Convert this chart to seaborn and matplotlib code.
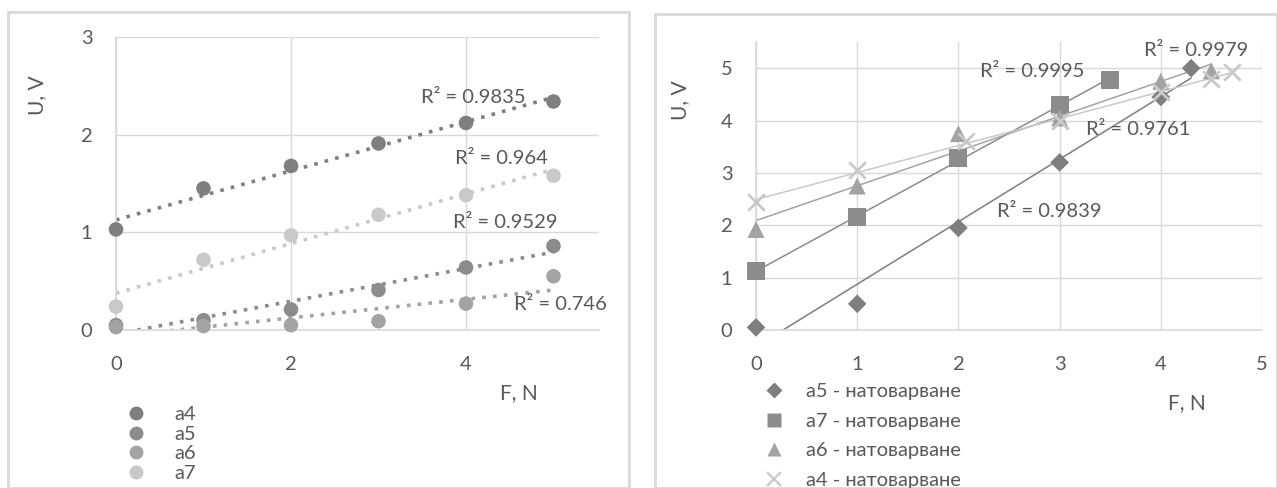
import numpy as np
import pandas as pd
import matplotlib
matplotlib.use("Agg")
import matplotlib.pyplot as plt
import seaborn as sns
from matplotlib.patches import Rectangle
from matplotlib.lines import Line2D

# left chart: U(F) for sensors a4..a7
left_force = [0, 1, 2, 3, 4, 5]
left_names = ["a4", "a5", "a6", "a7"]
left_a4 = [1.03, 1.45, 1.68, 1.91, 2.12, 2.34]
left_a5 = [0.05, 0.10, 0.21, 0.41, 0.64, 0.86]
left_a6 = [0.03, 0.04, 0.05, 0.09, 0.27, 0.55]
left_a7 = [0.24, 0.72, 0.97, 1.18, 1.38, 1.58]
left_r2 = ["0.9835", "0.9529", "0.746", "0.964"]
left_r2_pos = [(4.08, 2.38), (4.45, 1.10), (5.08, 0.26), (4.40, 1.76)]

# right chart: loading ("натоварване") curves
right_names = ["a5 - натоварване", "a7 - натоварване", "a6 - натоварване", "a4 - натоварване"]
right_a5_x = [0, 1, 2, 3, 4, 4.3]
right_a5_y = [0.05, 0.50, 1.95, 3.20, 4.45, 5.00]
right_a7_x = [0, 1, 2, 3, 3.5]
right_a7_y = [1.12, 2.15, 3.28, 4.30, 4.78]
right_a6_x = [0, 1, 2, 3, 4, 4.5]
right_a6_y = [1.92, 2.75, 3.75, 4.05, 4.75, 4.95]
right_a4_x = [0, 1, 2.08, 3, 4, 4.5, 4.7]
right_a4_y = [2.45, 3.05, 3.60, 4.00, 4.55, 4.80, 4.92]
right_r2 = ["0.9839", "0.9995", "0.9979", "0.9761"]
right_r2_pos = [(2.90, 2.27), (2.73, 4.94), (4.35, 5.34), (3.78, 3.82)]

grays = ["#7f7f7f", "#8c8c8c", "#a3a3a3", "#c9c9c9"]
text_col = "#595959"
grid_col = "#d9d9d9"

sns.set_style("white")
plt.rcParams["font.family"] = ["Lato", "DejaVu Sans"]

fig = plt.figure(figsize=(12.77, 4.88), dpi=100)

# panel frames
for x0, y0, w, h in [(8, 0, 621, 476), (655, 0, 622, 474)]:
    fig.patches.append(Rectangle((x0 / 1277, y0 / 488), w / 1277, h / 488,
                                 transform=fig.transFigure, fill=False,
                                 edgecolor="#d9d9d9", linewidth=2))

ax1 = fig.add_axes([116 / 1277, 158 / 488, 483 / 1277, 293 / 488])
ax2 = fig.add_axes([756 / 1277, 158 / 488, 506 / 1277, 288 / 488])


def style_axes(ax):
    ax.grid(True, color=grid_col, linewidth=1)
    ax.set_axisbelow(True)
    for side in ["top", "right"]:
        ax.spines[side].set_visible(False)
    for side in ["left", "bottom"]:
        ax.spines[side].set_color(grid_col)
        ax.spines[side].set_linewidth(1.2)
    ax.tick_params(length=0, labelsize=14.5, colors=text_col)
    ax.tick_params(axis="y", pad=17)
    ax.tick_params(axis="x", pad=19)
    for coll in ax.collections:
        coll.set_clip_on(False)


# ---- left chart
left_df = pd.DataFrame({"F": left_force * 4,
                        "U": left_a4 + left_a5 + left_a6 + left_a7,
                        "serie": np.repeat(left_names, len(left_force))})
sns.scatterplot(data=left_df, x="F", y="U", hue="serie", palette=grays,
                s=110, edgecolor="none", legend=False, ax=ax1, zorder=3)
for name, ys, col, r2, pos in zip(left_names, [left_a4, left_a5, left_a6, left_a7],
                                   grays, left_r2, left_r2_pos):
    k, b = np.polyfit(left_force, ys, 1)
    xs = np.array([min(left_force), max(left_force)])
    ax1.plot(xs, k * xs + b, linestyle=(0, (1, 2)), color=col, linewidth=2.6, zorder=2)
    ax1.text(pos[0], pos[1], "R² = " + r2, fontsize=14.5, color=text_col,
             ha="center", va="center", zorder=4)

ax1.set_xlim(0, 5.52)
ax1.set_ylim(0, 3)
ax1.set_xticks([0, 2, 4])
ax1.set_yticks([0, 1, 2, 3])
style_axes(ax1)
ax1.set_xlabel("")
ax1.set_ylabel("")
fig.text(519 / 1277, 1 - 393 / 488, "F, N", fontsize=15, color=text_col, ha="center", va="center")
fig.text(37 / 1277, 1 - 95 / 488, "U, V", fontsize=15, color=text_col, ha="center", va="center",
         rotation=90)

handles1 = [Line2D([], [], linestyle="none", marker="o", markersize=10,
                   markerfacecolor=c, markeredgecolor="none") for c in grays]
fig.legend(handles1, left_names, loc="upper left", bbox_to_anchor=(114 / 1277, 1 - 396 / 488),
           frameon=False, fontsize=14.5, labelcolor=text_col, handletextpad=1.3,
           labelspacing=0.12, borderpad=0, handlelength=1.2)

# ---- right chart
markers = ["D", "s", "^", "x"]
right_xs = [right_a5_x, right_a7_x, right_a6_x, right_a4_x]
right_ys = [right_a5_y, right_a7_y, right_a6_y, right_a4_y]
sizes = [90, 170, 150, 140]
for name, xs, ys, col, mk, sz, r2, pos in zip(right_names, right_xs, right_ys, grays, markers,
                                               sizes, right_r2, right_r2_pos):
    if mk == "x":
        sns.scatterplot(x=xs, y=ys, marker=mk, s=sz, color=col, linewidth=2,
                        legend=False, ax=ax2, zorder=3)
    else:
        sns.scatterplot(x=xs, y=ys, marker=mk, s=sz, color=col, edgecolor="none",
                        legend=False, ax=ax2, zorder=3)
    k, b = np.polyfit(xs, ys, 1)
    tx = np.array([min(xs), max(xs)])
    ax2.plot(tx, k * tx + b, color=col, linewidth=1.1, zorder=2)
    ax2.text(pos[0], pos[1], "R² = " + r2, fontsize=14.5, color=text_col,
             ha="center", va="center", zorder=4)

ax2.set_xlim(0, 5)
ax2.set_ylim(0, 5.5)
ax2.set_xticks([0, 1, 2, 3, 4, 5])
ax2.set_yticks([0, 1, 2, 3, 4, 5])
style_axes(ax2)
ax2.set_xlabel("")
ax2.set_ylabel("")
fig.text(1187 / 1277, 1 - 403 / 488, "F, N", fontsize=15, color=text_col, ha="center", va="center")
fig.text(680 / 1277, 1 - 100 / 488, "U, V", fontsize=15, color=text_col, ha="center", va="center",
         rotation=90)

handles2 = []
for c, mk in zip(grays, markers):
    if mk == "x":
        handles2.append(Line2D([], [], linestyle="none", marker=mk, markersize=10,
                               color=c, markeredgewidth=1.6))
    else:
        handles2.append(Line2D([], [], linestyle="none", marker=mk, markersize=10 if mk != "D" else 8,
                               markerfacecolor=c, markeredgecolor="none"))
fig.legend(handles2, right_names, loc="upper left", bbox_to_anchor=(752 / 1277, 1 - 373 / 488),
           frameon=False, fontsize=14.5, labelcolor=text_col, handletextpad=1.0,
           labelspacing=0.62, borderpad=0, handlelength=1.2)

fig.savefig("out.png", dpi=100, facecolor="white")
